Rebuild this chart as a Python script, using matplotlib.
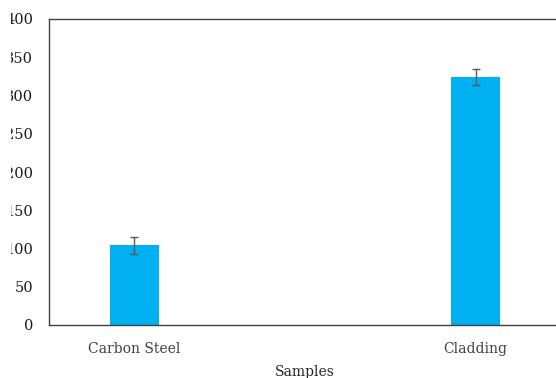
import numpy as np
import matplotlib.pyplot as plt
from matplotlib.patches import Rectangle

plt.rcParams['font.family'] = ['DejaVu Serif', 'Liberation Serif']

# ─── data ──────────────────────────────────────────────
samples = ['Carbon Steel', 'Cladding']
values = [104, 324]
errors = [11, 10.5]

W, H = 556, 378
fig = plt.figure(figsize=(W / 100, H / 100), dpi=100)
# axes: left 49px, bottom 325px, top 19px, right beyond crop (~561px)
ax = fig.add_axes([49 / W, (H - 325) / H, (561 - 49) / W, (325 - 19) / H])

x = np.arange(len(samples))
ax.bar(x, values, width=0.144, color='#00B0F0', zorder=2)
ax.errorbar(x, values, yerr=errors, fmt='none', ecolor='#595959',
            elinewidth=1, capsize=2.6, capthick=1, zorder=3)

ax.set_xlim(-0.25, 1.25)
ax.set_ylim(0, 400)
ax.set_yticks(np.arange(0, 401, 50))
ax.set_xticks(x)
ax.set_xticklabels(samples, fontsize=10)
ax.tick_params(axis='y', length=0, pad=11.5, labelsize=10.5, labelcolor='#1a1a1a')
ax.tick_params(axis='x', length=0, pad=12.5, labelcolor='#404040')
ax.set_xlabel('Samples', fontsize=10, color='#262626', labelpad=6.5)

for s in ax.spines.values():
    s.set_color('#404040')
    s.set_linewidth(1.0)

# the original picture is cropped on the left, cutting the first digits
fig.patches.append(Rectangle((0, 0), 11 / W, 1, transform=fig.transFigure,
                             facecolor='white', edgecolor='none', zorder=10))

fig.savefig('out.png', dpi=100)
